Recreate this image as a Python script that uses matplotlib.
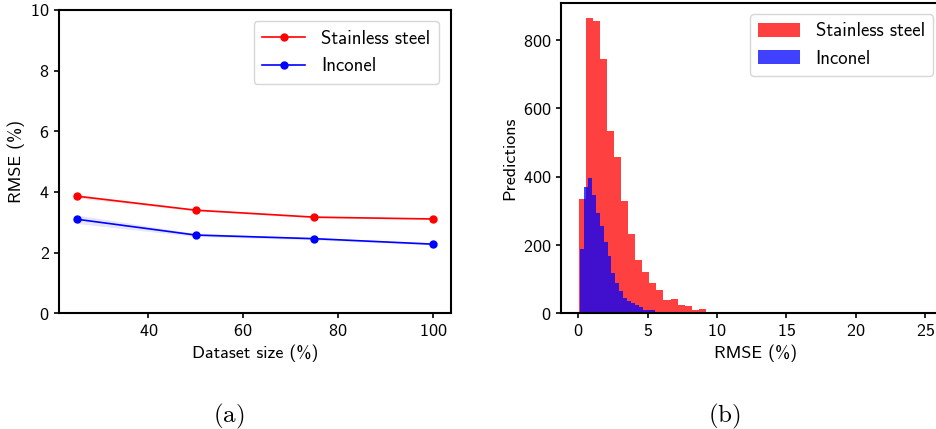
import matplotlib
matplotlib.use("Agg")
import matplotlib.pyplot as plt
import numpy as np

plt.rcParams['font.family'] = ['cmss10', 'DejaVu Sans']
plt.rcParams['mathtext.fontset'] = 'cm'
plt.rcParams['axes.formatter.use_mathtext'] = True
plt.rcParams['axes.linewidth'] = 1.5

# (a) RMSE vs dataset size
dataset_size = [25, 50, 75, 100]
rmse_steel = [3.86, 3.40, 3.17, 3.11]
rmse_inconel = [3.10, 2.58, 2.46, 2.28]
err_steel = [0.06, 0.03, 0.03, 0.02]
err_inconel = [0.14, 0.05, 0.04, 0.03]

# (b) histogram of prediction RMSE (counts per bin)
steel_range = (0.03, 25.5)
steel_counts = [334, 866, 856, 745, 533, 458, 328, 231, 157, 122,
                89, 68, 39, 42, 24, 21, 10, 13, 4, 4,
                4, 4, 0, 1, 1, 0, 1, 1, 0, 0,
                0, 0, 0, 0, 0, 0, 0, 0, 0, 0,
                0, 0, 0, 0, 0, 0, 0, 0, 0, 1]
inconel_range = (0.1, 14.45)
inconel_counts = [187, 369, 396, 346, 293, 257, 208, 169, 119, 90,
                  66, 44, 37, 30, 25, 18, 11, 9, 11, 4,
                  4, 2, 4, 4, 2, 1, 1, 1, 0, 1,
                  0, 1, 0, 0, 1, 0, 0, 0, 0, 0,
                  0, 0, 0, 0, 0, 0, 0, 0, 0, 1]

fig = plt.figure(figsize=(9.37, 4.29), dpi=100)

# left panel
ax1 = fig.add_axes([0.0633, 0.2697, 0.4177, 0.707])
x = np.array(dataset_size)
for y, e, c, lab in [(rmse_steel, err_steel, 'red', 'Stainless steel'),
                     (rmse_inconel, err_inconel, 'blue', 'Inconel')]:
    y = np.array(y)
    e = np.array(e)
    ax1.plot(x, y, '-o', color=c, lw=1.2, ms=5, label=lab)
    ax1.fill_between(x, y - e, y + e, color=c, alpha=0.1, lw=0)
ax1.set_ylim(0, 10)
ax1.set_xticks([40, 60, 80, 100])
ax1.set_xlabel('Dataset size (%)', fontsize=13)
ax1.set_ylabel('RMSE (%)', fontsize=13)
ax1.tick_params(labelsize=13, width=1.2)
ax1.legend(loc='upper right', fontsize=13.5, handlelength=2.3,
           handletextpad=0.85, borderpad=0.45, labelspacing=0.5,
           bbox_to_anchor=(0.993, 0.993))

# right panel (runs past the figure edge, as in the original)
ax2 = fig.add_axes([0.5987, 0.2697, 0.415, 0.7237])
s_edges = np.linspace(steel_range[0], steel_range[1], len(steel_counts) + 1)
i_edges = np.linspace(inconel_range[0], inconel_range[1], len(inconel_counts) + 1)
ax2.hist(s_edges[:-1], bins=s_edges, weights=steel_counts, color='red',
         alpha=0.75, label='Stainless steel')
ax2.hist(i_edges[:-1], bins=i_edges, weights=inconel_counts, color='blue',
         alpha=0.75, label='Inconel')
ax2.set_xticks([0, 5, 10, 15, 20, 25])
ax2.set_yticks([0, 200, 400, 600, 800])
ax2.set_xlabel('RMSE (%)', fontsize=13)
ax2.set_ylabel('Predictions', fontsize=13)
ax2.tick_params(labelsize=13, width=1.2)
ax2.legend(loc='upper right', fontsize=13.5, handlelength=2.2,
           handleheight=0.78, handletextpad=0.85, borderpad=0.45,
           bbox_to_anchor=(0.981, 0.995))

fig.text(0.2445, 0.03, r'$\mathrm{(a)}$', fontsize=18, ha='center', va='center')
fig.text(0.773, 0.03, r'$\mathrm{(b)}$', fontsize=18, ha='center', va='center')

fig.savefig('out.png', dpi=100)
